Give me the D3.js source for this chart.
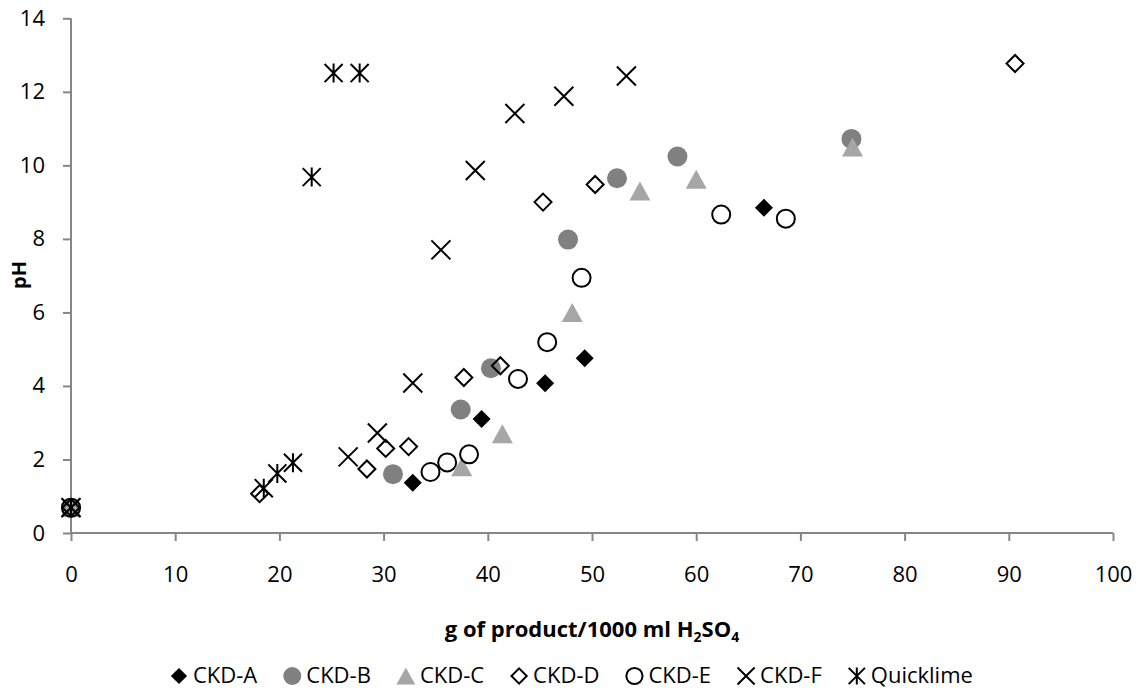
<!DOCTYPE html>
<html>
<head>
<meta charset="utf-8">
<script src="https://cdn.jsdelivr.net/npm/d3@7"></script>
<style>
  body { margin: 0; background: #fff; }
  text { font-family: 'Open Sans', sans-serif; fill: #000; }
</style>
</head>
<body>
<svg id="chart" width="1143" height="690"></svg>
<script>
///////////////////////////////////////////
// Data
///////////////////////////////////////////
var seriesNames = ["CKD-A", "CKD-B", "CKD-C", "CKD-D", "CKD-E", "CKD-F", "Quicklime"];

var ckdA_x = [0, 32.8, 39.4, 45.5, 49.3, 66.5];
var ckdA_y = [0.69, 1.37, 3.1, 4.07, 4.75, 8.85];

var ckdB_x = [0, 30.9, 37.4, 40.3, 47.7, 52.4, 58.2, 74.9];
var ckdB_y = [0.69, 1.6, 3.36, 4.48, 7.98, 9.65, 10.24, 10.72];

var ckdC_x = [0, 37.5, 41.4, 48.1, 54.6, 60.0, 75.0];
var ckdC_y = [0.69, 1.8, 2.7, 6.0, 9.3, 9.62, 10.5];

var ckdD_x = [0, 18.1, 28.4, 30.2, 32.4, 37.7, 41.2, 45.3, 50.3, 90.6];
var ckdD_y = [0.69, 1.07, 1.74, 2.3, 2.35, 4.23, 4.55, 9.0, 9.48, 12.77];

var ckdE_x = [0, 34.5, 36.1, 38.2, 42.9, 45.7, 49.0, 62.4, 68.6];
var ckdE_y = [0.69, 1.66, 1.92, 2.14, 4.19, 5.19, 6.94, 8.66, 8.55];

var ckdF_x = [0, 26.6, 29.4, 32.8, 35.5, 38.8, 42.6, 47.3, 53.3];
var ckdF_y = [0.69, 2.07, 2.72, 4.08, 7.7, 9.86, 11.41, 11.88, 12.43];

var lime_x = [0, 18.5, 19.8, 21.3, 23.1, 25.2, 27.7];
var lime_y = [0.69, 1.22, 1.62, 1.91, 9.68, 12.51, 12.51];

var xTicks = [0, 10, 20, 30, 40, 50, 60, 70, 80, 90, 100];
var yTicks = [0, 2, 4, 6, 8, 10, 12, 14];

///////////////////////////////////////////
// Marker shapes (centred on 0,0)
///////////////////////////////////////////
function diamondPath(r) {
  return "M0," + (-r) + "L" + r + ",0L0," + r + "L" + (-r) + ",0Z";
}
function trianglePath(w, h) {
  return "M0," + (-h / 2) + "L" + (w / 2) + "," + (h / 2) + "L" + (-w / 2) + "," + (h / 2) + "Z";
}
function crossPath(r) {
  return "M" + (-r) + "," + (-r) + "L" + r + "," + r + "M" + r + "," + (-r) + "L" + (-r) + "," + r;
}
function starPath(r) {
  return crossPath(r * 0.95) + "M0," + (-r) + "L0," + r;
}

function drawMarker(g, type, s) {
  // s = scale factor (1 in plot, smaller in legend)
  if (type === "A") {
    g.append("path").attr("d", diamondPath(9 * s)).attr("fill", "#000");
  } else if (type === "B") {
    g.append("circle").attr("r", 10 * s).attr("fill", "#808080");
  } else if (type === "C") {
    g.append("path").attr("d", trianglePath(21 * s, 19 * s)).attr("fill", "#a6a6a6");
  } else if (type === "D") {
    g.append("path").attr("d", diamondPath(8.5 * s)).attr("fill", "none")
      .attr("stroke", "#000").attr("stroke-width", 2);
  } else if (type === "E") {
    g.append("circle").attr("r", 9 * s).attr("fill", "none")
      .attr("stroke", "#000").attr("stroke-width", 2);
  } else if (type === "F") {
    g.append("path").attr("d", crossPath(9.5 * s)).attr("fill", "none")
      .attr("stroke", "#000").attr("stroke-width", 2);
  } else {
    g.append("path").attr("d", starPath(9.5 * s)).attr("fill", "none")
      .attr("stroke", "#000").attr("stroke-width", 2);
  }
}

var series = [
  { name: seriesNames[0], type: "A", xs: ckdA_x, ys: ckdA_y },
  { name: seriesNames[1], type: "B", xs: ckdB_x, ys: ckdB_y },
  { name: seriesNames[2], type: "C", xs: ckdC_x, ys: ckdC_y },
  { name: seriesNames[3], type: "D", xs: ckdD_x, ys: ckdD_y },
  { name: seriesNames[4], type: "E", xs: ckdE_x, ys: ckdE_y },
  { name: seriesNames[5], type: "F", xs: ckdF_x, ys: ckdF_y },
  { name: seriesNames[6], type: "Q", xs: lime_x, ys: lime_y }
];

///////////////////////////////////////////
// Chart
///////////////////////////////////////////
var svg = d3.select("#chart");
var plot = { left: 71, right: 1113, top: 18.3, bottom: 533 };
var axisColor = "#868686";
var fontSize = 22;

var x = d3.scaleLinear().domain([0, 100]).range([plot.left, plot.right]);
var y = d3.scaleLinear().domain([0, 14]).range([plot.bottom, plot.top]);

// y axis
var yAxisG = svg.append("g")
  .attr("transform", "translate(" + plot.left + ",0)")
  .call(d3.axisLeft(y).tickValues(yTicks).tickSize(8).tickPadding(18).tickFormat(d3.format("d")));
// x axis
var xAxisG = svg.append("g")
  .attr("transform", "translate(0," + plot.bottom + ")")
  .call(d3.axisBottom(x).tickValues(xTicks).tickSize(8).tickPadding(25).tickFormat(d3.format("d")));

[yAxisG, xAxisG].forEach(function(g) {
  g.select(".domain").attr("stroke", axisColor).attr("stroke-width", 2);
  g.selectAll(".tick line").attr("stroke", axisColor).attr("stroke-width", 2);
  g.selectAll(".tick text").attr("font-size", fontSize).attr("fill", "#000")
    .style("font-family", "'Open Sans', sans-serif");
});
// plain domain lines without the outer end ticks
yAxisG.select(".domain").attr("d", "M0," + y(0) + "V" + y(14));
xAxisG.select(".domain").attr("d", "M" + x(0) + ",0H" + x(100));

// markers
series.forEach(function(s) {
  var pts = s.xs.map(function(v, i) { return [v, s.ys[i]]; });
  var g = svg.append("g").attr("class", "series");
  g.selectAll("g.pt")
    .data(pts)
    .enter().append("g")
    .attr("class", "pt")
    .attr("transform", function(d) { return "translate(" + x(d[0]) + "," + y(d[1]) + ")"; })
    .each(function() { drawMarker(d3.select(this), s.type, 1); });
});

// axis titles
svg.append("text")
  .attr("transform", "translate(26,275) rotate(-90)")
  .attr("text-anchor", "middle")
  .attr("font-size", 20)
  .attr("font-weight", "bold")
  .text("pH");

var xt = svg.append("text")
  .attr("x", (plot.left + plot.right) / 2)
  .attr("y", 637)
  .attr("text-anchor", "middle")
  .attr("font-size", fontSize)
  .attr("font-weight", "bold");
xt.append("tspan").text("g of product/1000 ml H");
xt.append("tspan").attr("font-size", 14).attr("dy", 5).text("2");
xt.append("tspan").attr("dy", -5).text("SO");
xt.append("tspan").attr("font-size", 14).attr("dy", 5).text("4");

// legend
var legend = svg.append("g").attr("transform", "translate(179,683)");
var cx = 0;
series.forEach(function(s) {
  var item = legend.append("g").attr("transform", "translate(" + cx + ",0)");
  var m = item.append("g").attr("transform", "translate(0,-7)");
  drawMarker(m, s.type, 0.9);
  var t = item.append("text").attr("x", 14).attr("y", 0).attr("font-size", fontSize).text(s.name);
  cx += 14 + t.node().getComputedTextLength() + 35;
});
</script>
</body>
</html>
